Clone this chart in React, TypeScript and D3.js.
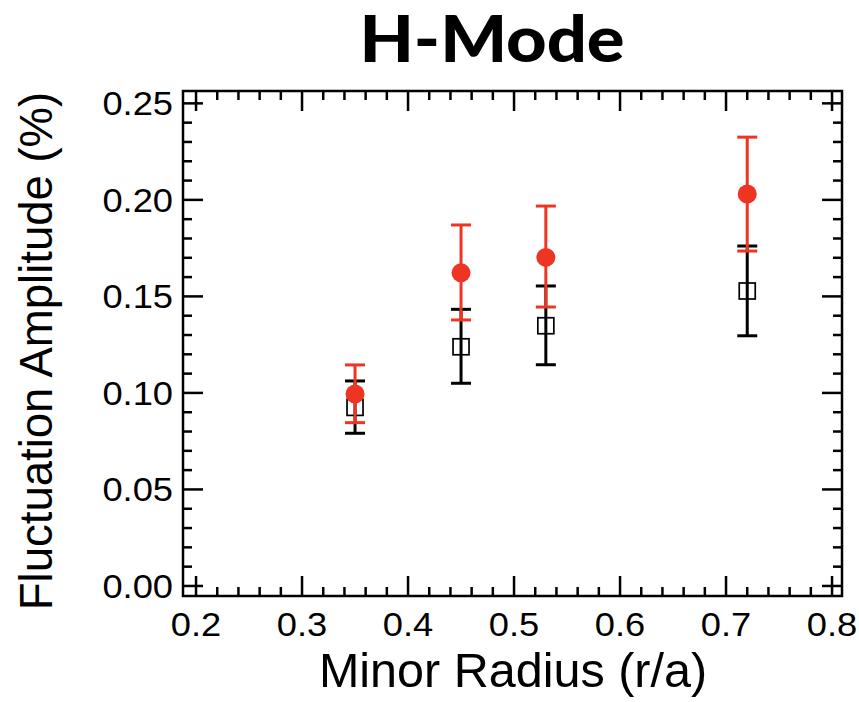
import React from "react";
import * as d3 from "d3";

const radius = [0.35, 0.45, 0.53, 0.72];
const redY = [0.0994, 0.1622, 0.1702, 0.203];
const redLo = [0.0846, 0.1378, 0.1445, 0.1735];
const redHi = [0.1145, 0.187, 0.1968, 0.2325];
const blackY = [0.0925, 0.1239, 0.1348, 0.1528];
const blackLo = [0.0791, 0.105, 0.1146, 0.1296];
const blackHi = [0.1062, 0.1433, 0.1554, 0.1761];

const xMajor = [0.2, 0.3, 0.4, 0.5, 0.6, 0.7, 0.8];
const xLabels = ["0.2", "0.3", "0.4", "0.5", "0.6", "0.7", "0.8"];
const yMajor = [0, 0.05, 0.1, 0.15, 0.2, 0.25];
const yLabels = ["0.00", "0.05", "0.10", "0.15", "0.20", "0.25"];

const title = "H-Mode";
const xTitle = "Minor Radius (r/a)";
const yTitle = "Fluctuation Amplitude (%)";

const RED = "#EE3524";

export default function App() {
  const L = 183, R = 842, T = 91, B = 596;
  const x = d3.scaleLinear().domain([0.1877, 0.8094]).range([L, R]);
  const y = d3.scaleLinear().domain([-0.0052, 0.2564]).range([B, T]);

  const xMinor = d3.range(0, 31).map((i) => 0.2 + i * 0.02).filter((_, i) => i % 5 !== 0);
  const yMinor = d3.range(0, 26).map((i) => i * 0.01).filter((_, i) => i % 5 !== 0);

  const MAJ = 20, MIN = 9;
  const tickStroke = 2.5;

  const errBar = (xs: number[], lo: number[], hi: number[], color: string, key: string) =>
    xs.map((xv, i) => {
      const cx = x(xv);
      return (
        <g key={key + i} stroke={color} strokeWidth={3} fill="none">
          <line x1={cx} x2={cx} y1={y(lo[i])} y2={y(hi[i])} />
          <line x1={cx - 10} x2={cx + 10} y1={y(lo[i])} y2={y(lo[i])} />
          <line x1={cx - 10} x2={cx + 10} y1={y(hi[i])} y2={y(hi[i])} />
        </g>
      );
    });

  return (
    <div style={{ position: "absolute", left: 0, top: 0 }}>
      <svg width={859} height={702} style={{ display: "block", background: "#fff" }}>
        <text transform="translate(492,62) scale(1.1,1)" textAnchor="middle" fontFamily="Lato" fontWeight={900} fontSize={64} fill="#000">
          {title}
        </text>

        {/* black series */}
        {errBar(radius, blackLo, blackHi, "#000", "b")}
        {radius.map((xv, i) => (
          <rect key={"s" + i} x={x(xv) - 8} y={y(blackY[i]) - 8} width={16} height={16} fill="none" stroke="#000" strokeWidth={1.7} />
        ))}
        {/* red series */}
        {errBar(radius, redLo, redHi, RED, "r")}
        {radius.map((xv, i) => (
          <circle key={"c" + i} cx={x(xv)} cy={y(redY[i])} r={9.5} fill={RED} />
        ))}

        {/* ticks */}
        <g stroke="#000" strokeWidth={tickStroke}>
          {xMajor.map((v) => (
            <g key={"xm" + v}>
              <line x1={x(v)} x2={x(v)} y1={B} y2={B - MAJ} />
              <line x1={x(v)} x2={x(v)} y1={T} y2={T + MAJ} />
            </g>
          ))}
          {xMinor.map((v) => (
            <g key={"xn" + v}>
              <line x1={x(v)} x2={x(v)} y1={B} y2={B - MIN} />
              <line x1={x(v)} x2={x(v)} y1={T} y2={T + MIN} />
            </g>
          ))}
          {yMajor.map((v) => (
            <g key={"ym" + v}>
              <line x1={L} x2={L + MAJ} y1={y(v)} y2={y(v)} />
              <line x1={R} x2={R - MAJ} y1={y(v)} y2={y(v)} />
            </g>
          ))}
          {yMinor.map((v) => (
            <g key={"yn" + v}>
              <line x1={L} x2={L + MIN} y1={y(v)} y2={y(v)} />
              <line x1={R} x2={R - MIN} y1={y(v)} y2={y(v)} />
            </g>
          ))}
        </g>
        <rect x={L} y={T} width={R - L} height={B - T} fill="none" stroke="#000" strokeWidth={2.5} />

        {/* tick labels */}
        {xMajor.map((v, i) => (
          <text key={"xl" + v} transform={`translate(${x(v)},636) scale(1.1,1)`} textAnchor="middle" fontFamily="Liberation Sans" fontSize={33} fill="#000">
            {xLabels[i]}
          </text>
        ))}
        {yMajor.map((v, i) => (
          <text key={"yl" + v} transform={`translate(173,${y(v) + 12}) scale(1.1,1)`} textAnchor="end" fontFamily="Liberation Sans" fontSize={33} fill="#000">
            {yLabels[i]}
          </text>
        ))}

        <text x={513} y={687} textAnchor="middle" fontFamily="Liberation Sans" fontSize={48.5} fill="#000">
          {xTitle}
        </text>
        <text transform="translate(52,351) rotate(-90)" textAnchor="middle" fontFamily="Liberation Sans" fontSize={45.5} fill="#000">
          {yTitle}
        </text>
      </svg>
    </div>
  );
}
